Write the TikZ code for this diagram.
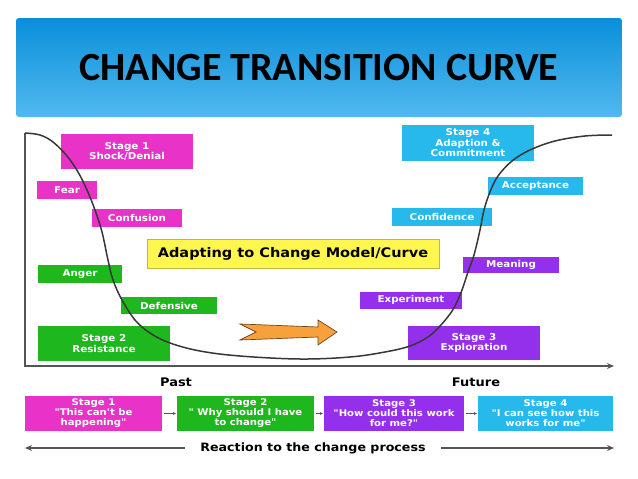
\documentclass[tikz,border=0pt]{standalone}
\usepackage{fontspec}
\setmainfont[FakeStretch=1.1,Ligatures=TeXOff]{DejaVu Sans}
\newfontfamily\titlefont{Carlito}
\usetikzlibrary{shapes,arrows,arrows.meta,positioning,calc}

\definecolor{bannertop}{RGB}{10,143,218}
\definecolor{bannerbot}{RGB}{82,185,239}
\definecolor{shockpink}{RGB}{232,50,200}
\definecolor{resistgreen}{RGB}{30,184,30}
\definecolor{explorepurple}{RGB}{148,48,235}
\definecolor{commitcyan}{RGB}{40,185,236}
\definecolor{modelyellow}{RGB}{255,246,80}
\definecolor{modeledge}{RGB}{196,184,60}
\definecolor{arroworange}{RGB}{247,160,60}
\definecolor{arrowedge}{RGB}{110,70,30}
\definecolor{curvegray}{RGB}{55,55,55}
\definecolor{axisgray}{RGB}{85,85,85}

\begin{document}
\begin{tikzpicture}[x=1pt,y=-1pt,
  box/.style={rectangle, inner sep=1pt, text=white, align=center, font=\bfseries\fontsize{9.4}{10.5}\selectfont},
  feelbox/.style={box, minimum height=18pt},
  stagebox/.style={box, minimum width=132pt, minimum height=35pt},
  quotebox/.style={box, minimum height=35pt, font=\bfseries\fontsize{9.2}{10}\selectfont},
  axislabel/.style={font=\bfseries\fontsize{11.8}{12}\selectfont},
  linkarrow/.style={-{Stealth[length=3pt,width=3pt]}, axisgray, line width=0.7pt, shorten <=2pt, shorten >=1pt},
  bigarrow/.style={-{Stealth[length=7pt,width=6pt]}, axisgray, line width=1.3pt}]
\useasboundingbox (0,0) rectangle (638,479);

% title banner
\node[rectangle, rounded corners=3pt, minimum width=606pt, minimum height=99pt, top color=bannertop, bottom color=bannerbot, font=\titlefont\bfseries\fontsize{40}{40}\selectfont] (banner) at (319,67.5) {CHANGE TRANSITION CURVE};

% left side (past)
\node[stagebox, fill=shockpink] (shock) at (127,151.5) {Stage 1\\Shock/Denial};
\node[feelbox, fill=shockpink, minimum width=60pt] (fear) at (67,190) {Fear};
\node[feelbox, fill=shockpink, minimum width=90pt] (confusion) at (137,218) {Confusion};
\node[feelbox, fill=resistgreen, minimum width=84pt] (anger) at (80,274) {Anger};
\node[feelbox, fill=resistgreen, minimum width=96pt, minimum height=17pt] (defensive) at (169,305.5) {Defensive};
\node[stagebox, fill=resistgreen] (resistance) at (104,343.5) {Stage 2\\Resistance};

% middle
\node[rectangle, draw=modeledge, line width=0.6pt, fill=modelyellow, minimum width=292pt, minimum height=29pt, font=\bfseries\fontsize{13.2}{14}\selectfont] (model) at (293,253.5) {Adapting to Change Model/Curve};
\draw[draw=arrowedge, fill=arroworange, line width=0.7pt] (240,324) -- (318,327) -- (318,320) -- (337,332) -- (318,345) -- (318,337) -- (240,340) -- (256,332) -- cycle;

% right side (future)
\node[stagebox, fill=commitcyan, minimum height=36pt] (commitment) at (468,143) {Stage 4\\Adaption \&\\Commitment};
\node[feelbox, fill=commitcyan, minimum width=95pt] (acceptance) at (535.5,186) {Acceptance};
\node[feelbox, fill=commitcyan, minimum width=100pt] (confidence) at (442,217) {Confidence};
\node[feelbox, fill=explorepurple, minimum width=96pt, minimum height=16pt] (meaning) at (511,265) {Meaning};
\node[feelbox, fill=explorepurple, minimum width=102pt, minimum height=17pt] (experiment) at (411,300) {Experiment};
\node[stagebox, fill=explorepurple, minimum height=34pt] (exploration) at (474,343) {Stage 3\\Exploration};

% axes and curve
\coordinate (curvetop) at (25,133);
\coordinate (origin) at (25,366);
\coordinate (axisend) at (614,366);
\draw[bigarrow] (curvetop) -- (origin) -- (axisend);
\draw[curvegray, line width=1.5pt] plot[smooth, tension=0.6] coordinates {(25,133) (40,135) (53,142) (67,156) (78,172) (87,190) (95,210) (102,232) (108,260) (113,280) (122,300) (135,320) (150,333) (170,343) (200,351) (240,356) (300,359) (350,357) (385,352) (410,346) (428,337) (440,326) (450,314) (456,304) (462,290) (468,272) (474,255) (480,230) (484,210) (490,192) (498,176) (512,161) (530,150) (555,141) (585,136) (612,135)};

\node[axislabel] (past) at (176,382) {Past};
\node[axislabel] (future) at (476,382) {Future};

% reactions
\node[quotebox, fill=shockpink, minimum width=137pt] (react1) at (93.5,413.5) {Stage 1\\"This can't be\\happening"};
\node[quotebox, fill=resistgreen, minimum width=137pt] (react2) at (245.5,413.5) {Stage 2\\" Why should I have\\to change"};
\node[quotebox, fill=explorepurple, minimum width=140pt] (react3) at (394,413.5) {Stage 3\\"How could this work\\for me?"};
\node[quotebox, fill=commitcyan, minimum width=135pt] (react4) at (545.5,413.5) {Stage 4\\"I can see how this\\works for me"};
\draw[linkarrow] (react1) -- (react2);
\draw[linkarrow] (react2) -- (react3);
\draw[linkarrow] (react3) -- (react4);

\node[font=\bfseries\fontsize{11.5}{12}\selectfont] (process) at (313,448) {Reaction to the change process};
\coordinate (processleft) at (25,448);
\coordinate (processright) at (614,448);
\draw[bigarrow, line width=1.1pt] ([xshift=-12pt]process.west) -- (processleft);
\draw[bigarrow, line width=1.1pt] ([xshift=12pt]process.east) -- (processright);
\end{tikzpicture}
\end{document}
